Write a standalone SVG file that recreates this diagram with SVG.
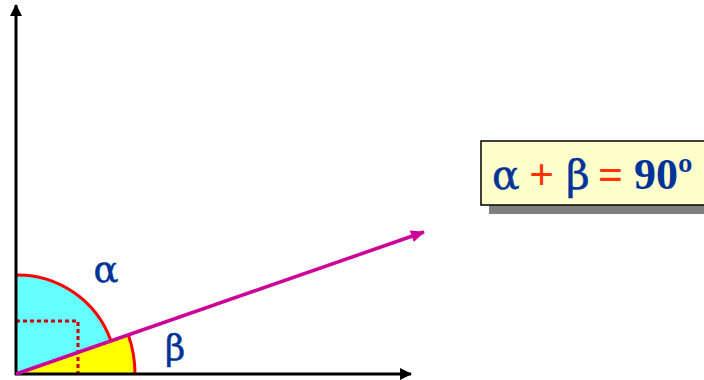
<svg xmlns="http://www.w3.org/2000/svg" width="704" height="380" viewBox="0 0 704 380">
<style>
.lbl{font-family:"Liberation Serif","DejaVu Serif",serif;fill:#003399;font-weight:bold}
.gk{font-family:"DejaVu Serif","Liberation Serif",serif;font-weight:normal;stroke:#003399;stroke-width:0.5}
.axis{stroke:#000;stroke-width:3;fill:none}
</style>
<defs>
<marker id="ab" markerWidth="12" markerHeight="12" refX="11" refY="6" orient="auto" markerUnits="userSpaceOnUse" viewBox="0 0 12 12"><path d="M0,0 L12,6 L0,12 Z" fill="#000"/></marker>
<marker id="am" markerWidth="14" markerHeight="12" refX="13" refY="6" orient="auto" markerUnits="userSpaceOnUse" viewBox="0 0 14 12"><path d="M0,0 L14,6 L0,12 Z" fill="#cc0099"/></marker>
</defs>
<rect width="704" height="380" fill="#fff"/>
<g id="sectors">
<path d="M16,374 L16,275 A99,99 0 0 1 110.8,340.6 Z" fill="#66ffff"/>
<path d="M16,374 L128.4,334.9 A119,119 0 0 1 135,374 Z" fill="#ffff00"/>
<path d="M16,275 A99,99 0 0 1 110.8,340.6" fill="none" stroke="#ff0000" stroke-width="3"/>
<path d="M128.4,334.9 A119,119 0 0 1 135,374" fill="none" stroke="#ff0000" stroke-width="3"/>
<path d="M16,321 L78,321 L78,374" fill="none" stroke="#cc0000" stroke-width="3" stroke-dasharray="4,3"/>
</g>
<g id="connectors">
<line class="axis" x1="16" y1="375" x2="16" y2="5" marker-end="url(#ab)"/>
<line class="axis" x1="15" y1="374" x2="411" y2="374" marker-end="url(#ab)"/>
<line x1="16" y1="374" x2="424" y2="232" stroke="#cc0099" stroke-width="3.5" marker-end="url(#am)"/>
</g>
<g id="labels">
<text class="lbl gk" x="106" y="282" font-size="37" text-anchor="middle">α</text>
<text class="lbl gk" x="175" y="360" font-size="35" text-anchor="middle">β</text>
</g>
<g id="equation">
<rect x="489" y="149" width="230" height="65" fill="#808080"/>
<rect x="481" y="141" width="240" height="64" fill="#ffffcc" stroke="#000" stroke-width="1.5"/>
<text class="lbl" y="189" font-size="44"><tspan x="492" class="gk" font-size="41">α</tspan><tspan x="529" fill="#ff3300">+</tspan><tspan x="566" class="gk" font-size="41">β</tspan><tspan x="598" fill="#ff3300">=</tspan><tspan x="634">90º</tspan></text>
</g>
</svg>
